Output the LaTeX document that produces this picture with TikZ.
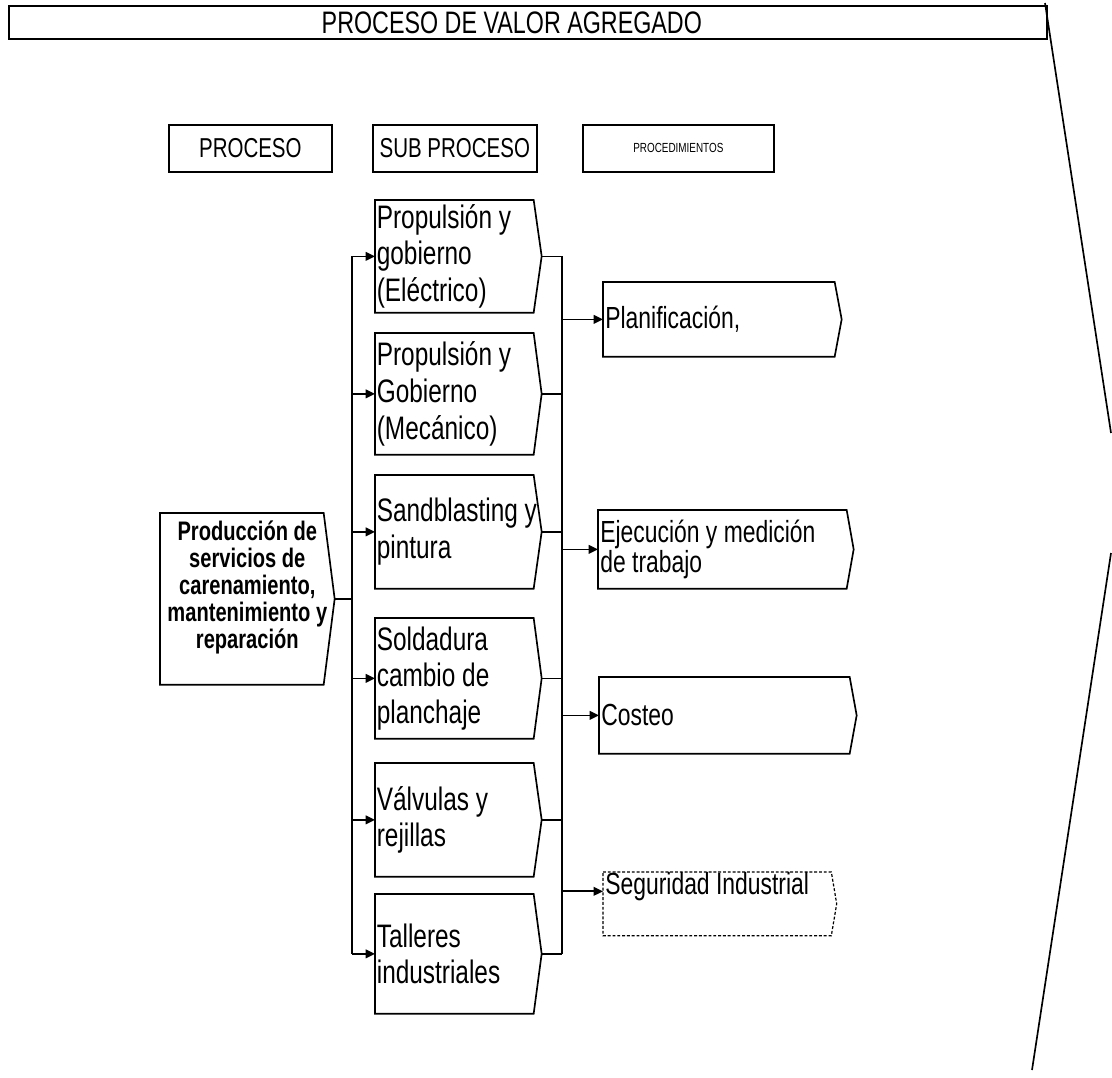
\documentclass[tikz,border=0pt]{standalone}
\usepackage{fontspec}
\setmainfont[FakeStretch=0.75]{Liberation Sans}
\usetikzlibrary{arrows.meta}
\newdimen\upx \upx=0.75pt
% outline of a box whose right side is a shallow point
\newcommand\drawchev[3][]{%
  \draw[#1] (#2.north west) -- ([xshift=-#3]#2.north east) -- (#2.east)
    -- ([xshift=-#3]#2.south east) -- (#2.south west) -- cycle;}
\begin{document}
\begin{tikzpicture}[x=0.75pt,y=-0.75pt,line width=1.25pt,
  titlefont/.style={font=\fontsize{23.3pt}{26pt}\selectfont},
  headbox/.style={draw,anchor=north west,inner sep=0pt,minimum height=47\upx,
    font=\fontsize{20.5pt}{24pt}\selectfont},
  subbox/.style={anchor=north west,text width=163\upx,
    inner xsep=1\upx,inner ysep=0pt,align=flush left,
    font=\fontsize{24.4pt}{27.5pt}\selectfont},
  procbox/.style={anchor=north west,inner xsep=1.5\upx,
    inner ysep=0pt,align=flush left,font=\fontsize{22.9pt}{22.5pt}\selectfont},
  mainbox/.style={anchor=north west,text height=27\upx,text depth=143\upx,
    text width=171\upx,inner xsep=1\upx,inner ysep=0pt,align=flush center,
    font=\bfseries\fontsize{20.1pt}{20.25pt}\selectfont},
  arr/.style={-{Triangle[length=7pt,width=6.5pt]}},
  fine dashes/.style={dash pattern=on 2.2pt off 1.4pt}]
\useasboundingbox (0,0) rectangle (1112,1077);

% title band and the slanted right-hand border
\node[draw,anchor=north west,minimum width=1038\upx,minimum height=33\upx,
  inner sep=0pt,titlefont] (title) at (8,5) {\hspace*{-24pt}PROCESO DE VALOR AGREGADO};
\coordinate (r0) at (1045,3);
\coordinate (r1) at (1111,433);
\coordinate (r2) at (1111,553);
\coordinate (r3) at (1032,1070);
\draw (r0) -- (r1);
\draw (r2) -- (r3);

% column headers
\node[headbox,minimum width=163\upx] (hproc) at (168,124) {PROCESO};
\node[headbox,minimum width=164\upx] (hsub) at (372,124) {SUB PROCESO};
\node[headbox,minimum width=191\upx,font=\fontsize{9.9pt}{11pt}\selectfont]
  (hprocd) at (582,124) {PROCEDIMIENTOS};

% main process
\node[mainbox] (p) at (160,513)
  {Producción de\\servicios de\\carenamiento,\\mantenimiento y\\reparación};
\drawchev{p}{8.25pt}

% sub-processes
\node[subbox,minimum height=111\upx] (s1) at (375,200) {Propulsión y\\gobierno\\(Eléctrico)};
\node[subbox,minimum height=120\upx] (s2) at (375,333) {Propulsión y\\Gobierno\\(Mecánico)};
\node[subbox,minimum height=112\upx] (s3) at (375,475) {Sandblasting y\\pintura};
\node[subbox,minimum height=119\upx] (s4) at (375,618) {Soldadura\\cambio de\\planchaje};
\node[subbox,minimum height=112\upx] (s5) at (375,763) {Válvulas y\\rejillas};
\node[subbox,minimum height=118\upx] (s6) at (375,894) {Talleres\\industriales};
\foreach \s in {s1,s2,s3,s4,s5,s6} {\drawchev{\s}{6pt}}

% procedures
\node[procbox,text width=234\upx,minimum height=73\upx] (q1) at (603,282) {Planificación,};
\node[procbox,text width=251\upx,minimum height=77\upx] (q2) at (598,510) {Ejecución y medición\\de trabajo};
\node[procbox,text width=253\upx,minimum height=75\upx] (q3) at (599,677) {Costeo};
\node[procbox,text width=229\upx,text height=22\upx,text depth=40\upx] (q4) at (603,872) {Seguridad Industrial};
\foreach \q in {q1,q2,q3} {\drawchev{\q}{5.25pt}}
\drawchev[fine dashes,line width=0.9pt]{q4}{4pt}

% distribution lines
\coordinate (lb) at (352,598);
\coordinate (rb) at (562,318);
\draw (p.east) -- (p.east -| lb);
\draw (s1.west -| lb) -- (s6.west -| lb);
\foreach \s in {s1,s2,s3,s4,s5,s6} {\draw[arr] (\s.west -| lb) -- (\s.west);}
\foreach \s in {s1,s2,s3,s4,s5,s6} {\draw (\s.east) -- (\s.east -| rb);}
\draw (s1.east -| rb) -- (s6.east -| rb);
\foreach \q in {q1,q2,q3} {\draw[arr] (\q.west -| rb) -- (\q.west);}
\draw[arr] (q4.mid west -| rb) -- (q4.mid west);
\end{tikzpicture}
\end{document}
